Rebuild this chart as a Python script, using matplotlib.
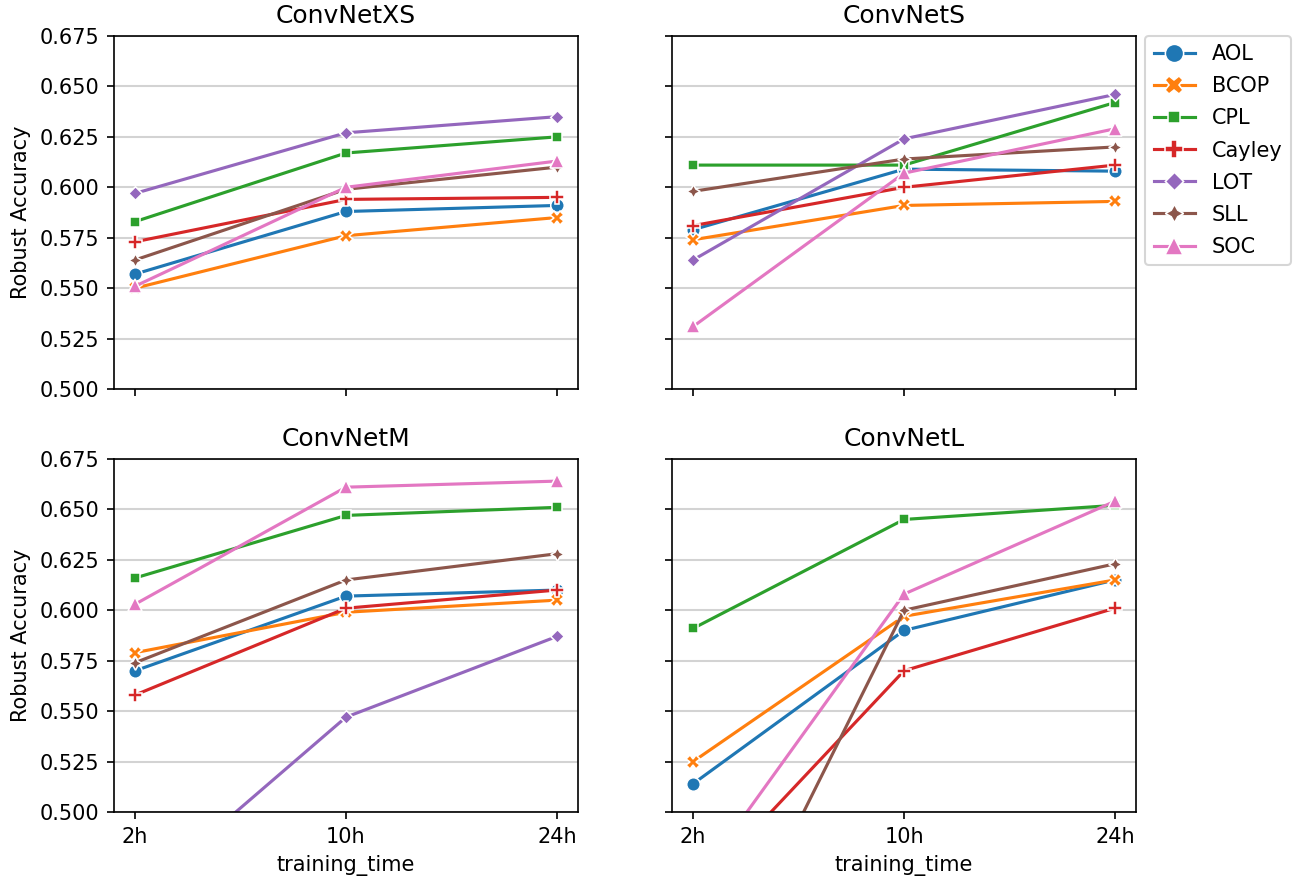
import matplotlib.pyplot as plt

# --- Данные ---
times = ["2h", "10h", "24h"]
methods = ["AOL", "BCOP", "CPL", "Cayley", "LOT", "SLL", "SOC"]
models = ["ConvNetXS", "ConvNetS", "ConvNetM", "ConvNetL"]

xs_acc = {
    "AOL": [0.557, 0.588, 0.591],
    "BCOP": [0.550, 0.576, 0.585],
    "CPL": [0.583, 0.617, 0.625],
    "Cayley": [0.573, 0.594, 0.595],
    "LOT": [0.597, 0.627, 0.635],
    "SLL": [0.564, 0.599, 0.610],
    "SOC": [0.551, 0.600, 0.613],
}
s_acc = {
    "AOL": [0.579, 0.609, 0.608],
    "BCOP": [0.574, 0.591, 0.593],
    "CPL": [0.611, 0.611, 0.642],
    "Cayley": [0.581, 0.600, 0.611],
    "LOT": [0.564, 0.624, 0.646],
    "SLL": [0.598, 0.614, 0.620],
    "SOC": [0.531, 0.607, 0.629],
}
m_acc = {
    "AOL": [0.570, 0.607, 0.610],
    "BCOP": [0.579, 0.599, 0.605],
    "CPL": [0.616, 0.647, 0.651],
    "Cayley": [0.558, 0.601, 0.610],
    "LOT": [0.457, 0.547, 0.587],
    "SLL": [0.574, 0.615, 0.628],
    "SOC": [0.603, 0.661, 0.664],
}
l_acc = {
    "AOL": [0.514, 0.590, 0.615],
    "BCOP": [0.525, 0.597, 0.615],
    "CPL": [0.591, 0.645, 0.652],
    "Cayley": [0.459, 0.570, 0.601],
    "LOT": [0.420, 0.460, 0.480],
    "SLL": [0.390, 0.600, 0.623],
    "SOC": [0.463, 0.608, 0.654],
}
all_acc = [xs_acc, s_acc, m_acc, l_acc]

colors = ["#1f77b4", "#ff7f0e", "#2ca02c", "#d62728", "#9467bd", "#8c564b", "#e377c2"]
markers = ["o", "X", (4, 0, 45), "P", (4, 0, 0), (4, 1, 0), "^"]

# --- Построение ---
fig, axes = plt.subplots(2, 2, figsize=(8.66, 5.88), dpi=150, sharex=True, sharey=True)
fig.subplots_adjust(left=0.0878, right=0.8745, top=0.9592, bottom=0.0794,
                    wspace=0.203, hspace=0.198)

for ax, name, acc in zip(axes.flat, models, all_acc):
    for m, c, mk in zip(methods, colors, markers):
        ax.plot(times, acc[m], color=c, marker=mk, lw=1.5, ms=6.5,
                mec="w", mew=0.75, label=m)
    ax.set_title(name, fontsize=12)
    ax.set_ylim(0.5, 0.675)
    ax.set_yticks([0.5, 0.525, 0.55, 0.575, 0.6, 0.625, 0.65, 0.675])
    ax.yaxis.grid(True, color="#d3d3d3", lw=1)
    ax.set_axisbelow(True)

for ax in axes[:, 0]:
    ax.set_ylabel("Robust Accuracy")
    ax.yaxis.set_major_formatter(plt.FormatStrFormatter("%.3f"))
for ax in axes[1, :]:
    ax.set_xlabel("training_time")

axes[0, 1].legend(loc="upper left", bbox_to_anchor=(1.02, 1), borderaxespad=0,
                  markerscale=1.35, labelspacing=0.58)

plt.savefig("out.png")
